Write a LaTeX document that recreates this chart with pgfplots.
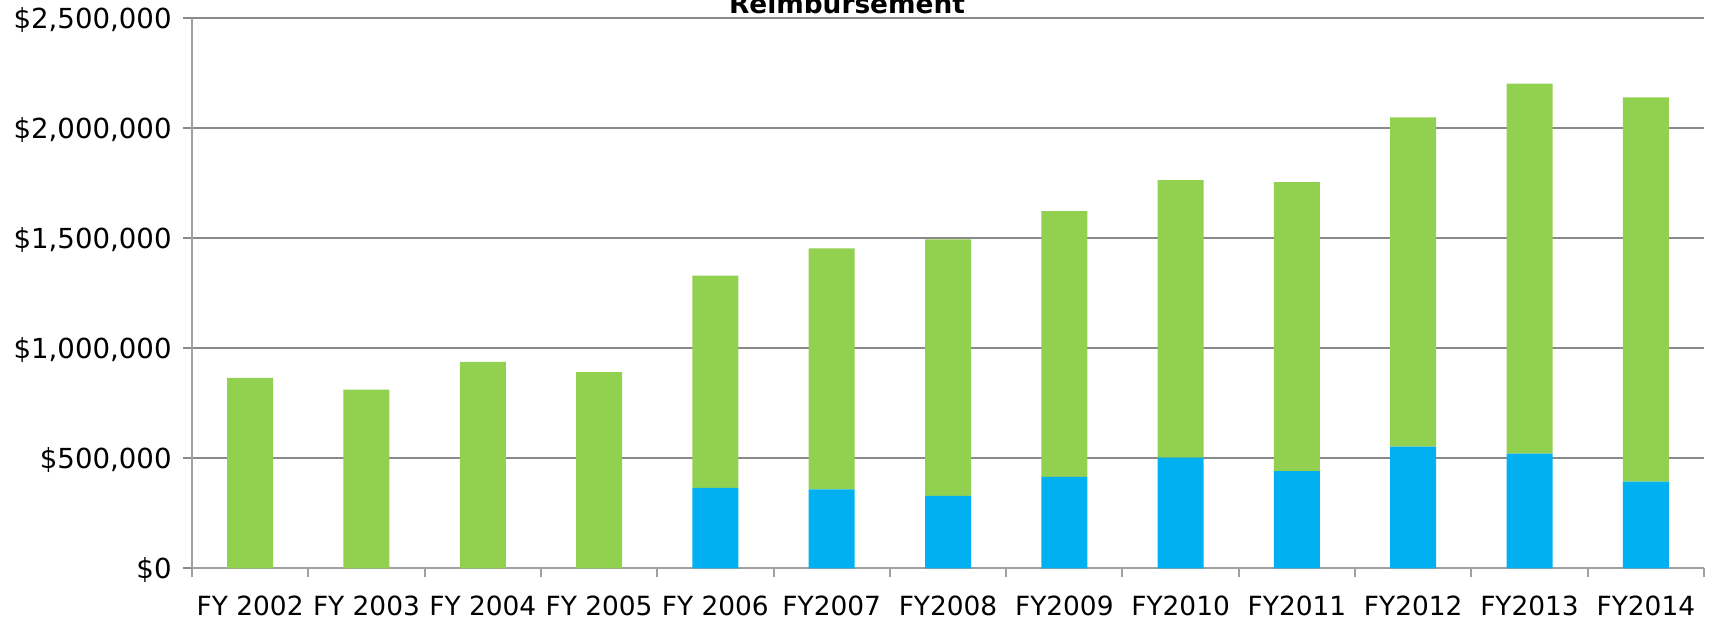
\documentclass[border=0pt]{standalone}
\usepackage{pgfplots}
\pgfplotsset{compat=1.18}
\usepackage{fontspec}
\setmainfont{DejaVu Sans}
\definecolor{barblue}{HTML}{00B0F0}
\definecolor{bargreen}{HTML}{92D050}
\definecolor{gridgray}{HTML}{8A8A8A}
\definecolor{axisgray}{HTML}{A0A0A0}
\begin{document}
\begin{tikzpicture}
\begin{axis}[
  at={(96pt,25.85pt)}, anchor=south west,
  width=756pt, height=275pt, scale only axis,
  ybar stacked, bar width=23pt,
  xmin=-0.5, xmax=12.5, ymin=0, ymax=2500000,
  axis x line*=bottom, axis y line*=left,
  axis line style={draw=axisgray, line width=1pt},
  xtick={0,...,12},
  xticklabels={FY 2002,FY 2003,FY 2004,FY 2005,FY 2006,FY2007,FY2008,FY2009,FY2010,FY2011,FY2012,FY2013,FY2014},
  minor xtick={-0.5,0.5,...,12.5},
  x tick style={draw=none},
  minor x tick style={draw=axisgray, line width=1pt},
  minor tick length=4.5pt,
  ytick={0,500000,1000000,1500000,2000000,2500000},
  yticklabels={{\$0},{\$500,000},{\$1,000,000},{\$1,500,000},{\$2,000,000},{\$2,500,000}},
  y tick style={draw=gridgray, line width=1pt},
  major tick length=4.5pt,
  tick align=outside,
  ymajorgrids, major grid style={draw=gridgray, line width=1pt},
  xticklabel style={anchor=north, inner sep=0pt, yshift=-9pt, font=\fontsize{13.2}{15}\selectfont},
  yticklabel style={anchor=east, inner sep=0pt, xshift=-5.5pt, yshift=-1pt, font=\fontsize{13.8}{15}\selectfont},
  scaled y ticks=false,
  clip=false,
]
\addplot[fill=barblue, draw=none] coordinates {
 (0,0) (1,0) (2,0) (3,0) (4,366000) (5,359000) (6,329000) (7,415000) (8,503000) (9,442000) (10,553000) (11,521000) (12,394000)};
\addplot[fill=bargreen, draw=none] coordinates {
 (0,866000) (1,812000) (2,938000) (3,892000) (4,964000) (5,1095000) (6,1166000) (7,1208000) (8,1261000) (9,1313000) (10,1497000) (11,1682000) (12,1747000)};
\end{axis}
\node[anchor=base, font=\fontsize{13.2}{15}\selectfont\bfseries, inner sep=0pt] at (423.5pt,303pt) {Reimbursement};
\pgfresetboundingbox
\path[use as bounding box] (0,0) rectangle (856pt,310pt);
\end{tikzpicture}
\end{document}
